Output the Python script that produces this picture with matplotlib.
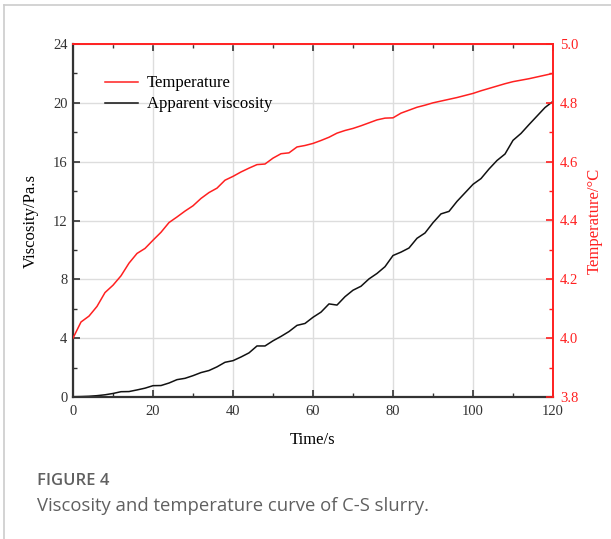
import numpy as np
import matplotlib
matplotlib.use("Agg")
import matplotlib.pyplot as plt
from matplotlib.lines import Line2D
from matplotlib.ticker import MultipleLocator, FormatStrFormatter

# data (every 2 s)
time_s = list(range(0, 122, 2))
viscosity = [
    0.02, 0.03, 0.05, 0.09, 0.15, 0.24, 0.36, 0.37, 0.48, 0.60,
    0.77, 0.78, 0.95, 1.18, 1.27, 1.45, 1.66, 1.80, 2.05, 2.36,
    2.47, 2.72, 3.00, 3.47, 3.47, 3.82, 4.12, 4.45, 4.87, 5.00,
    5.42, 5.77, 6.33, 6.25, 6.82, 7.26, 7.53, 8.03, 8.40, 8.86,
    9.62, 9.85, 10.13, 10.79, 11.15, 11.85, 12.45, 12.62, 13.30, 13.88,
    14.46, 14.85, 15.50, 16.08, 16.52, 17.45, 17.92, 18.52, 19.10, 19.68,
    20.10,
]
temperature = [
    4.000, 4.055, 4.075, 4.108, 4.155, 4.180, 4.212, 4.255, 4.288, 4.305,
    4.333, 4.360, 4.393, 4.412, 4.432, 4.450, 4.475, 4.495, 4.510, 4.537,
    4.550, 4.565, 4.578, 4.590, 4.592, 4.612, 4.627, 4.630, 4.650, 4.655,
    4.662, 4.672, 4.683, 4.697, 4.706, 4.713, 4.722, 4.732, 4.742, 4.748,
    4.749, 4.765, 4.775, 4.785, 4.792, 4.800, 4.806, 4.812, 4.818, 4.825,
    4.832, 4.841, 4.849, 4.857, 4.865, 4.872, 4.877, 4.882, 4.888, 4.894,
    4.900,
]

plt.rcParams["font.family"] = ["Liberation Serif", "DejaVu Serif"]

RED = "#ff2020"
DARK = "#333333"

fig = plt.figure(figsize=(6.11, 5.39), dpi=100)
ax = fig.add_axes([73 / 611, 1 - 397 / 539, 480 / 611, 353 / 539])
ax2 = ax.twinx()

ax.set_xlim(0, 120)
ax.set_ylim(0, 24)
ax2.set_ylim(3.8, 5.0)

ax.grid(True, color="#dddddd", linewidth=1.0, zorder=0)
ax.set_axisbelow(True)

ax2.plot(time_s, temperature, color=RED, linewidth=1.1, label="Temperature")
ax.plot(time_s, viscosity, color="#111111", linewidth=1.1, label="Apparent viscosity")

ax.xaxis.set_major_locator(MultipleLocator(20))
ax.xaxis.set_minor_locator(MultipleLocator(10))
ax.yaxis.set_major_locator(MultipleLocator(4))
ax.yaxis.set_minor_locator(MultipleLocator(2))
ax2.yaxis.set_major_locator(MultipleLocator(0.2))
ax2.yaxis.set_minor_locator(MultipleLocator(0.1))

ax.tick_params(axis="x", which="both", direction="in", top=True, colors=DARK,
               labelsize=10.5, pad=6)
ax.tick_params(axis="x", which="major", length=5, width=1.2)
ax.tick_params(axis="x", which="minor", length=3, width=1.0)
ax.tick_params(axis="y", which="both", direction="in", colors=DARK, labelsize=10.5, pad=4)
ax.tick_params(axis="y", which="major", length=5, width=1.2)
ax.tick_params(axis="y", which="minor", length=3, width=1.0)
ax2.tick_params(axis="y", which="both", direction="in", colors=RED, labelsize=10.5, pad=5)
ax2.tick_params(axis="y", which="major", length=5, width=1.2)
ax2.tick_params(axis="y", which="minor", length=3, width=1.0)
ax2.yaxis.set_major_formatter(FormatStrFormatter("%.1f"))

for sp in ["left", "bottom"]:
    ax.spines[sp].set_color(DARK)
    ax.spines[sp].set_linewidth(1.6)
ax2.spines["left"].set_visible(False)
ax2.spines["bottom"].set_visible(False)
ax2.spines["top"].set_color(RED)
ax2.spines["top"].set_linewidth(1.4)
ax2.spines["right"].set_color(RED)
ax2.spines["right"].set_linewidth(1.4)
ax.spines["top"].set_visible(False)
ax.spines["right"].set_visible(False)

# red top ticks
for t in ax.xaxis.get_ticklines(minor=False)[1::2] + ax.xaxis.get_ticklines(minor=True)[1::2]:
    t.set_color(RED)

ax.set_xlabel("Time/s", fontsize=12, labelpad=10)
ax.set_ylabel("Viscosity/Pa.s", fontsize=12, labelpad=10)
ax2.set_ylabel("Temperature/\u00b0C", fontsize=12, color=RED, labelpad=6)

handles = [Line2D([], [], color=RED, linewidth=1.1),
           Line2D([], [], color="#111111", linewidth=1.1)]
ax.legend(handles, ["Temperature", "Apparent viscosity"], loc="upper left",
          bbox_to_anchor=(0.053, 0.93), frameon=False, fontsize=12,
          handlelength=2.0, handletextpad=0.5, labelspacing=0.3, borderaxespad=0)

# page frame lines
fig.add_artist(Line2D([4 / 611, 4 / 611], [0, 1 - 5 / 539], color="#cccccc", linewidth=1.2))
fig.add_artist(Line2D([4 / 611, 1], [1 - 5 / 539, 1 - 5 / 539], color="#cccccc", linewidth=1.2))

fig.text(37 / 611, 1 - 481 / 539, "FIGURE 4", fontsize=12, color="#606060",
         family=["Open Sans", "DejaVu Sans"], fontweight="semibold", va="center")
fig.text(37 / 611, 1 - 506 / 539, "Viscosity and temperature curve of C-S slurry.",
         fontsize=13.3, color="#606060", family=["Open Sans", "DejaVu Sans"], va="center")

fig.savefig("out.png", dpi=100)
